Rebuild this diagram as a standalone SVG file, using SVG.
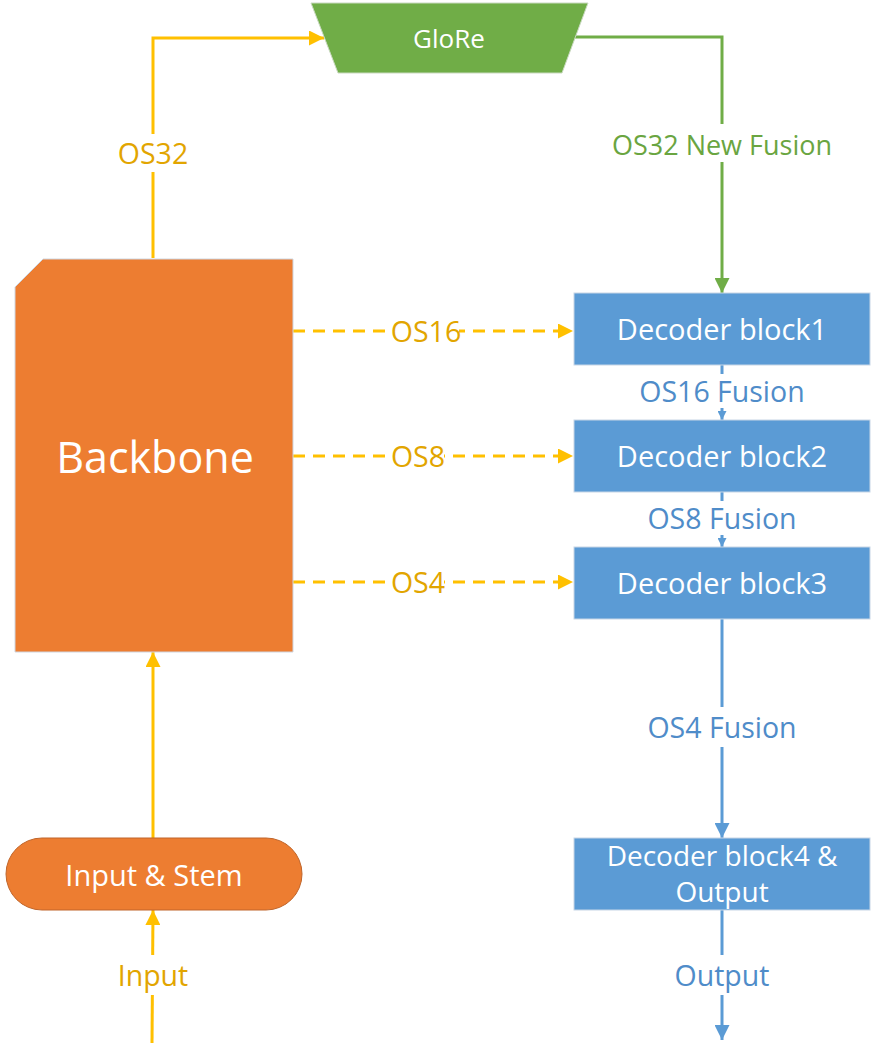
<svg xmlns="http://www.w3.org/2000/svg" width="877" height="1045" viewBox="0 0 877 1045">
<defs>
<style>
text{font-family:"Open Sans","Noto Sans","DejaVu Sans",sans-serif;text-anchor:middle;dominant-baseline:central}
.w{fill:#fff;font-size:29px}
.lo{fill:#E2A500;font-size:28.5px}
.lg{fill:#6AA541;font-size:27px}
.lb{fill:#4F8CC9;font-size:28.5px}
.dec{fill:#5B9BD5;stroke:#C8D6E6;stroke-width:1}
.yo{stroke:#FFC000;stroke-width:3;fill:none}
.gr{stroke:#70AD47;stroke-width:3;fill:none}
.bl{stroke:#5B9BD5;stroke-width:3;fill:none}
.bg{fill:#fff}
</style>
<marker id="ay" viewBox="0 0 10 10" refX="10" refY="5" markerWidth="5" markerHeight="5" orient="auto" markerUnits="strokeWidth"><path d="M0,0L10,5L0,10z" fill="#FFC000"/></marker>
<marker id="ag" viewBox="0 0 10 10" refX="10" refY="5" markerWidth="5" markerHeight="5" orient="auto" markerUnits="strokeWidth"><path d="M0,0L10,5L0,10z" fill="#70AD47"/></marker>
<marker id="ab" viewBox="0 0 10 10" refX="10" refY="5" markerWidth="5" markerHeight="5" orient="auto" markerUnits="strokeWidth"><path d="M0,0L10,5L0,10z" fill="#5B9BD5"/></marker>
<marker id="abs" viewBox="0 0 10 10" refX="10" refY="5" markerWidth="3" markerHeight="3" orient="auto" markerUnits="strokeWidth"><path d="M0,0L10,5L0,10z" fill="#5B9BD5"/></marker>
</defs>
<g id="connectors">
<path class="yo" d="M153,258V38H324" marker-end="url(#ay)"/>
<rect class="bg" x="110" y="134" width="86" height="38"/>
<text class="lo" x="153" y="153">OS32</text>
<path class="gr" d="M575,37H722V293" marker-end="url(#ag)"/>
<rect class="bg" x="612" y="124" width="220" height="38"/>
<text class="lg" x="722" y="144">OS32 New Fusion</text>
<path class="yo" d="M293,331H573" stroke-dasharray="12,8" marker-end="url(#ay)"/>
<rect class="bg" x="393" y="318" width="66" height="26"/>
<text class="lo" x="426" y="331">OS16</text>
<path class="yo" d="M293,456H573" stroke-dasharray="12,8" marker-end="url(#ay)"/>
<rect class="bg" x="393" y="443" width="51" height="26"/>
<text class="lo" x="418" y="456">OS8</text>
<path class="yo" d="M293,582H573" stroke-dasharray="12,8" marker-end="url(#ay)"/>
<rect class="bg" x="393" y="569" width="51" height="26"/>
<text class="lo" x="418" y="582">OS4</text>
<path class="bl" d="M722,365V420" marker-end="url(#abs)"/>
<rect class="bg" x="636" y="374" width="174" height="34"/>
<text class="lb" x="722" y="391">OS16 Fusion</text>
<path class="bl" d="M722,492V547" marker-end="url(#abs)"/>
<rect class="bg" x="643" y="501" width="158" height="34"/>
<text class="lb" x="722" y="518">OS8 Fusion</text>
<path class="bl" d="M722,619V838" marker-end="url(#ab)"/>
<rect class="bg" x="643" y="707" width="158" height="40"/>
<text class="lb" x="722" y="727">OS4 Fusion</text>
<path class="bl" d="M722,910V1040" marker-end="url(#ab)"/>
<rect class="bg" x="668" y="955" width="108" height="40"/>
<text class="lb" x="722" y="975">Output</text>
<path class="yo" d="M153,838V652" marker-end="url(#ay)"/>
<path class="yo" d="M152,1043L153,910" marker-end="url(#ay)"/>
<rect class="bg" x="111" y="955" width="84" height="40"/>
<text class="lo" x="153" y="975">Input</text>
</g>
<g id="glore">
<path d="M311,3H588L562,73H338Z" fill="#70AD47" stroke="#C9D9C0" stroke-width="1"/>
<text class="w" x="449" y="38" style="font-size:26px">GloRe</text>
</g>
<g id="backbone">
<path d="M43,259H293V652H15V287Z" fill="#ED7D31" stroke="#CFD6E0" stroke-width="1"/>
<text class="w" x="155" y="456" style="font-size:43px">Backbone</text>
</g>
<g id="stem">
<rect x="6" y="838" width="296" height="72" rx="36" fill="#ED7D31" stroke="#C0652A" stroke-width="1"/>
<text class="w" x="154" y="874">Input &amp; Stem</text>
</g>
<g id="dec1">
<rect class="dec" x="574" y="293" width="296" height="72"/>
<text class="w" x="722" y="328">Decoder block1</text>
</g>
<g id="dec2">
<rect class="dec" x="574" y="420" width="296" height="72"/>
<text class="w" x="722" y="455">Decoder block2</text>
</g>
<g id="dec3">
<rect class="dec" x="574" y="547" width="296" height="72"/>
<text class="w" x="722" y="582">Decoder block3</text>
</g>
<g id="dec4">
<rect class="dec" x="574" y="838" width="296" height="72"/>
<text class="w" x="722" y="855" style="font-size:28px">Decoder block4 &amp;</text>
<text class="w" x="722" y="891" style="font-size:28px">Output</text>
</g>
</svg>
